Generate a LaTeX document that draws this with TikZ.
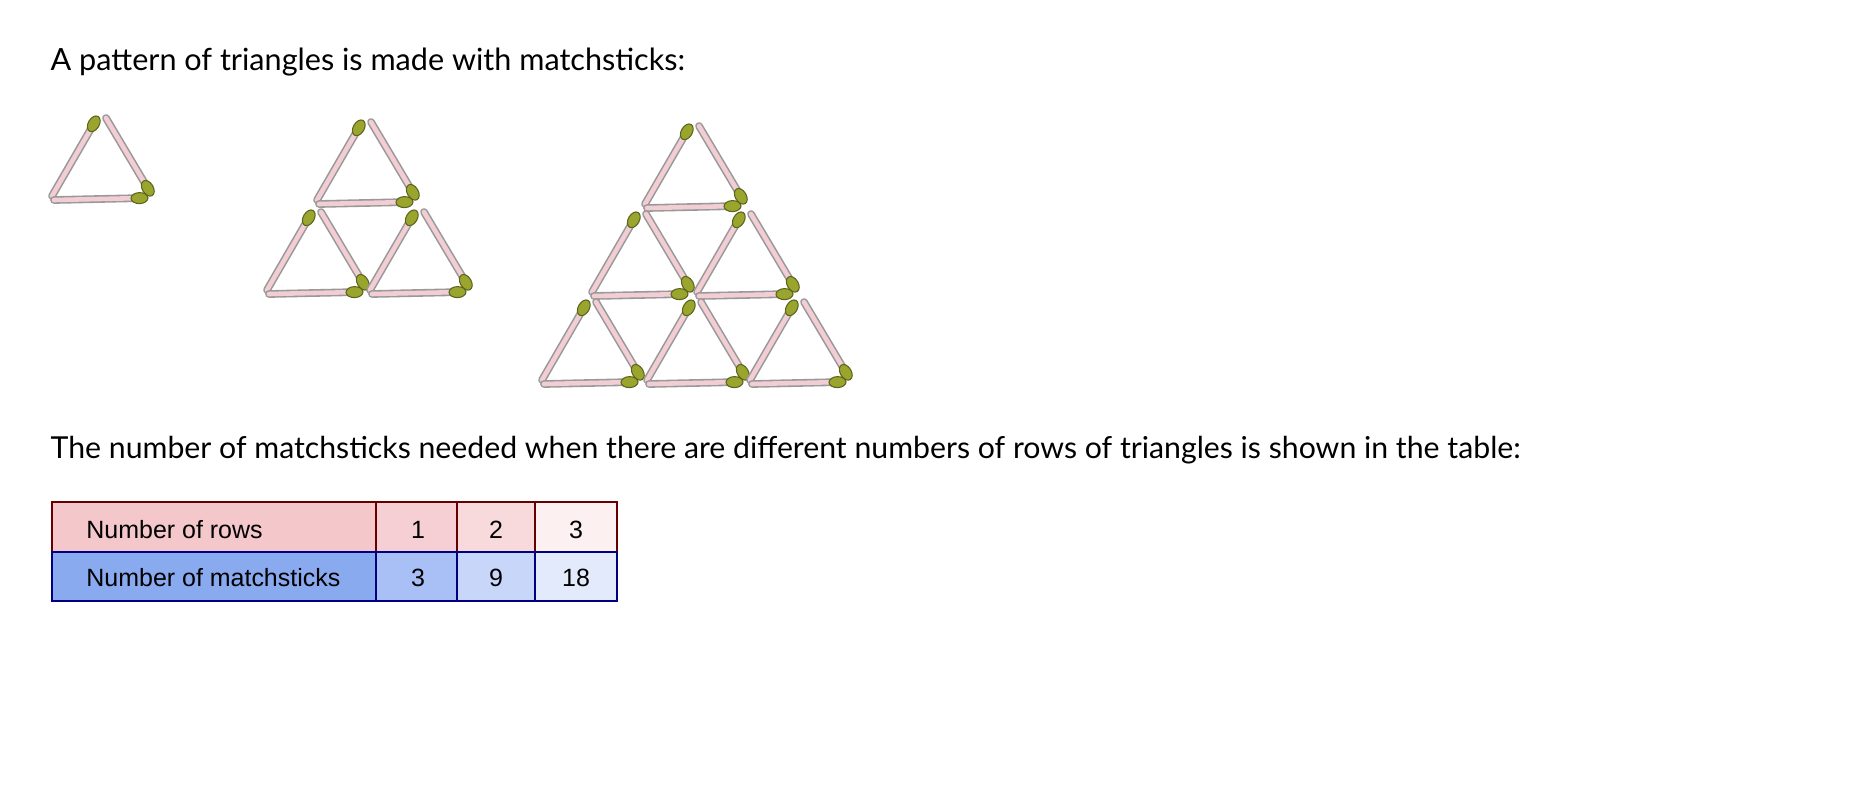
\documentclass[tikz,border=0pt]{standalone}
\usepackage{fontspec}
\usetikzlibrary{shapes.geometric}
\setmainfont{Lato}
\newfontfamily\tabfont{Liberation Sans}
\definecolor{stickpink}{HTML}{F2CDD3}
\definecolor{headgreen}{HTML}{9AA52E}
\definecolor{rowpinkA}{HTML}{F4C7CB}
\definecolor{rowpinkB}{HTML}{F5CFD3}
\definecolor{rowpinkC}{HTML}{F8DADD}
\definecolor{rowpinkD}{HTML}{FDF0F1}
\definecolor{rowblueA}{HTML}{8AAAF0}
\definecolor{rowblueB}{HTML}{A9C0F7}
\definecolor{rowblueC}{HTML}{C8D6FA}
\definecolor{rowblueD}{HTML}{E2EAFC}
\tikzset{
  stick/.style={line width=2.2pt, draw=gray!80, line cap=round},
  stickin/.style={line width=1.3pt, draw=stickpink, line cap=round},
  head/.style={ellipse, sloped, fill=headgreen, draw=headgreen!60!black, line width=0.3pt,
    inner sep=0, minimum width=0.17cm, minimum height=0.11cm},
  pinkcell/.style={draw=red!40!black, line width=0.6pt},
  bluecell/.style={draw=blue!50!black, line width=0.6pt},
  celltext/.style={font=\tabfont\fontsize{7.1}{8.5}\selectfont},
}
% one matchstick, head at the second end
\newcommand\match[2]{%
  \draw[stick] #1 -- #2;%
  \draw[stickin] #1 -- #2;%
  \path #1 -- #2 node[head, pos=0.95] {};}
% one upward triangle of three sticks, apex given
\newcommand\tri[2]{%
  \match{({#1-48},{#2+80})}{({#1-4},{#2+4})}%
  \match{({#1+6},{#2+2})}{({#1+50},{#2+76})}%
  \match{({#1-46},{#2+84})}{({#1+44},{#2+82})}}
\begin{document}
\begin{tikzpicture}[x=0.01cm, y=-0.01cm]
  \useasboundingbox (0,0) rectangle (1870,784);
  % texts
  \node[anchor=base west, font=\fontsize{8.7}{10}\selectfont, inner sep=0] (title) at (50,70) {A pattern of triangles is made with matchsticks:};
  \node[anchor=base west, font=\fontsize{8.6}{10}\selectfont, inner sep=0] (intro) at (50,458) {The number of matchsticks needed when there are different numbers of rows of triangles is shown in the table:};
  % pattern 1
  \tri{100}{116}
  % pattern 2
  \foreach \ax/\ay in {365/120, 315/210, 418/210} {\tri{\ax}{\ay}}
  % pattern 3
  \foreach \ax/\ay in {693/124, 640/212, 745/212, 590/300, 695/300, 798/300} {\tri{\ax}{\ay}}
  % table
  \filldraw[pinkcell, fill=rowpinkA] (52,502) rectangle (376,552);
  \filldraw[pinkcell, fill=rowpinkB] (376,502) rectangle (457,552);
  \filldraw[pinkcell, fill=rowpinkC] (457,502) rectangle (535,552);
  \filldraw[pinkcell, fill=rowpinkD] (535,502) rectangle (617,552);
  \filldraw[bluecell, fill=rowblueA] (52,552) rectangle (376,601);
  \filldraw[bluecell, fill=rowblueB] (376,552) rectangle (457,601);
  \filldraw[bluecell, fill=rowblueC] (457,552) rectangle (535,601);
  \filldraw[bluecell, fill=rowblueD] (535,552) rectangle (617,601);
  \node[celltext, anchor=west] (rows) at (74,530) {Number of rows};
  \node[celltext] (r1) at (418,530) {1};
  \node[celltext] (r2) at (496,530) {2};
  \node[celltext] (r3) at (576,530) {3};
  \node[celltext, anchor=west] (sticks) at (74,578) {Number of matchsticks};
  \node[celltext] (m1) at (418,578) {3};
  \node[celltext] (m2) at (496,578) {9};
  \node[celltext] (m3) at (576,578) {18};
\end{tikzpicture}
\end{document}
